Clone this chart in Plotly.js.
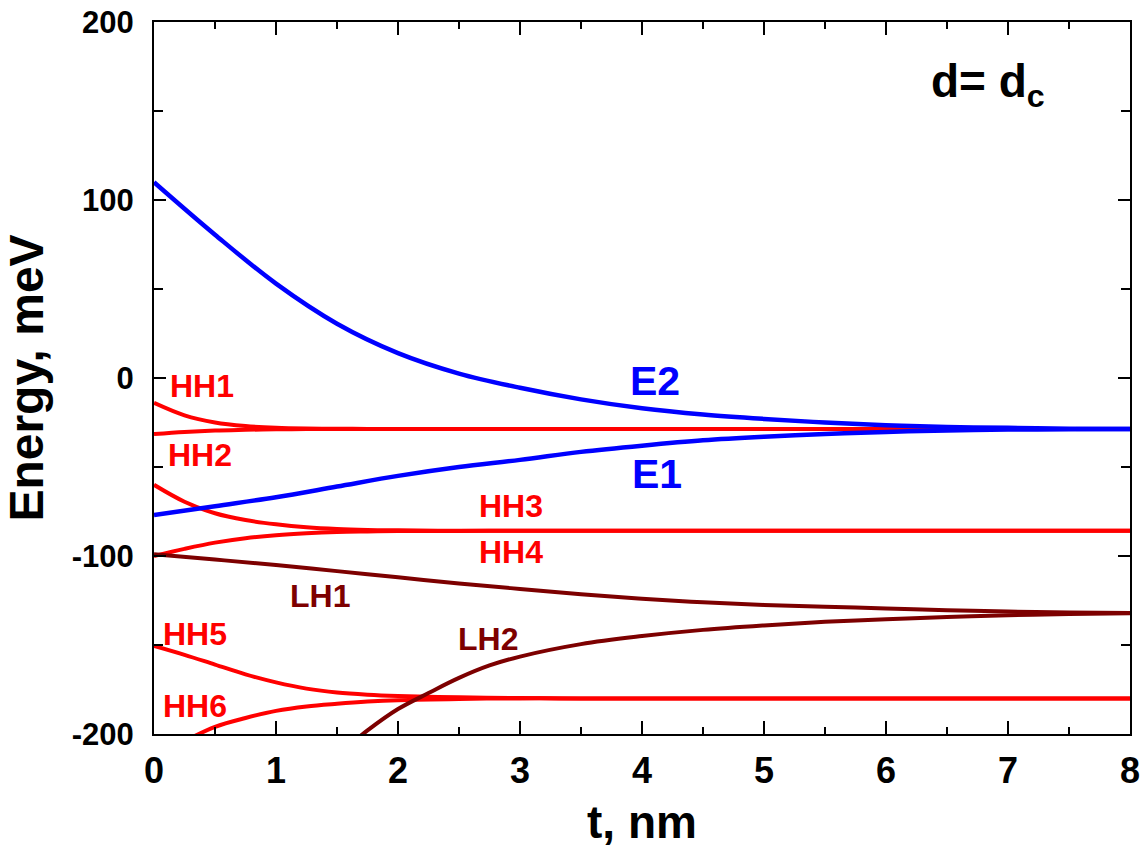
<!DOCTYPE html>
<html>
<head>
<meta charset="utf-8">
<script src="https://cdn.plot.ly/plotly-3.0.1.min.js"></script>
<style>html,body{margin:0;padding:0;background:#fff;}#chart{width:1140px;height:852px;}</style>
</head>
<body>
<div id="chart"></div>
<script>
// thickness t, nm (sample points) and energies, meV
const tFull = [0,0.25,0.5,0.75,1,1.25,1.5,1.75,2,2.5,3,3.5,4,4.5,5,5.5,6,6.5,7,7.5,8];
const tHalf = [0,0.5,1,1.5,2,2.5,3,3.5,4,4.5,5,5.5,6,6.5,7,7.5,8];
const tLH2  = [1.5,1.75,2,2.25,2.5,2.75,3,3.5,4,4.5,5,5.5,6,6.5,7,7.5,8];

const E2  = [110,80.5,53,30.5,14,2.5,-5.5,-12,-17,-20.5,-23,-25,-26.5,-27.5,-28,-28.5,-28.7];
const E1  = [-77,-72,-67,-61,-55,-50,-46,-41.5,-38,-35,-33,-31.5,-30.3,-29.5,-29,-28.8,-28.7];

const HH1 = [-14,-21,-25,-27,-28,-28.4,-28.5,-28.6,-28.6,-28.6,-28.6,-28.6,-28.6,-28.6,-28.6,-28.6,-28.6,-28.6,-28.6,-28.6,-28.6];
const HH2 = [-31.5,-30.3,-29.5,-29.1,-28.8,-28.7,-28.6,-28.6,-28.6,-28.6,-28.6,-28.6,-28.6,-28.6,-28.6,-28.6,-28.6,-28.6,-28.6,-28.6,-28.6];
const HH3 = [-60,-69.5,-76,-79.8,-82.2,-83.9,-84.9,-85.4,-85.6,-85.8,-85.8,-85.8,-85.8,-85.8,-85.8,-85.8,-85.8,-85.8,-85.8,-85.8,-85.8];
const HH4 = [-100,-96,-92.5,-90,-88.3,-87.2,-86.5,-86.2,-86,-85.9,-85.8,-85.8,-85.8,-85.8,-85.8,-85.8,-85.8,-85.8,-85.8,-85.8,-85.8];
const HH5 = [-150.5,-155.5,-161,-166.5,-171,-174.5,-176.7,-177.9,-178.6,-179.4,-179.8,-180,-180,-180,-180,-180,-180,-180,-180,-180,-180];
const HH6 = [-213,-204,-196,-191,-187,-184.5,-183,-181.8,-181,-180.3,-180,-180,-180,-180,-180,-180,-180,-180,-180,-180,-180];

const LH1 = [-99,-102,-105,-108.5,-112,-115.5,-118.5,-121.5,-124,-126,-127.5,-128.5,-129.5,-130.5,-131.2,-131.7,-132];
const LH2 = [-212,-198,-186,-177,-168.5,-161.5,-156.5,-149.5,-145,-141.5,-139,-137,-135.5,-134.3,-133.3,-132.6,-132.2];

const xTicks = [0,1,2,3,4,5,6,7,8];
const yTicks = [-200,-100,0,100,200];
const yTickText = ['-200','-100','0','100','200'];

const labels = [
  {text:'HH1', x:0.39, y:-4.5,  c:'red'},
  {text:'HH2', x:0.38, y:-43,   c:'red'},
  {text:'HH3', x:2.93, y:-72,   c:'red'},
  {text:'HH4', x:2.93, y:-97.5, c:'red'},
  {text:'HH5', x:0.34, y:-144,  c:'red'},
  {text:'HH6', x:0.34, y:-184,  c:'red'},
  {text:'LH1', x:1.36, y:-122.5,c:'dark'},
  {text:'LH2', x:2.74, y:-146.6,c:'dark'}
];
const eLabels = [
  {text:'E2', x:4.11, y:-1.7},
  {text:'E1', x:4.12, y:-54}
];

const RED = '#ff0000', DARK = '#7d0000', BLUE = '#0000ff';
const FONT = 'Liberation Sans, Arial, sans-serif';

function line(x, y, color, w) {
  return {x:x, y:y, mode:'lines', type:'scatter', line:{color:color, width:w, shape:'spline', smoothing:1}, hoverinfo:'skip', showlegend:false};
}

const data = [
  line(tFull, HH1, RED, 4),
  line(tFull, HH2, RED, 4),
  line(tFull, HH3, RED, 4),
  line(tFull, HH4, RED, 4),
  line(tFull, HH5, RED, 4),
  line(tFull, HH6, RED, 4),
  line(tHalf, LH1, DARK, 4),
  line(tLH2, LH2, DARK, 4),
  line(tHalf, E1, BLUE, 4.5),
  line(tHalf, E2, BLUE, 4.5)
];

const annotations = labels.map(l => ({
  x:l.x, y:l.y, xref:'x', yref:'y', text:l.text, showarrow:false,
  font:{family:FONT, size:32, weight:'bold', color: l.c === 'red' ? RED : DARK}
})).concat(eLabels.map(l => ({
  x:l.x, y:l.y, xref:'x', yref:'y', text:l.text, showarrow:false,
  font:{family:FONT, size:41, weight:'bold', color:BLUE}
}))).concat([{
  x:6.84, y:165, xref:'x', yref:'y', text:'d= d<sub>c</sub>', showarrow:false,
  font:{family:FONT, size:46, weight:'bold', color:'#000'}
}]);

const layout = {
  width:1140, height:852,
  margin:{l:154, r:10, t:22, b:118},
  paper_bgcolor:'#fff', plot_bgcolor:'#fff',
  showlegend:false,
  xaxis:{
    range:[0,8.0001], tickmode:'array', tickvals:xTicks, ticktext:xTicks.map(String),
    showgrid:false, zeroline:false,
    showline:true, linecolor:'#000', linewidth:2, mirror:'ticks',
    ticks:'inside', ticklen:13, tickwidth:2, tickcolor:'#000',
    minor:{dtick:0.5, tick0:0, ticks:'inside', ticklen:7, tickwidth:2, tickcolor:'#000', showgrid:false},
    tickfont:{family:FONT, size:36, weight:'bold', color:'#000'},
    ticklabelstandoff:4,
    ticklabeloverflow:'allow',
    title:{text:'t, nm', font:{family:FONT, size:46, weight:'bold', color:'#000'}, standoff:16},
    automargin:false
  },
  yaxis:{
    range:[-200,200], tickmode:'array', tickvals:yTicks, ticktext:yTickText,
    showgrid:false, zeroline:false,
    showline:true, linecolor:'#000', linewidth:2, mirror:'ticks',
    ticks:'inside', ticklen:12, tickwidth:2, tickcolor:'#000',
    minor:{dtick:50, tick0:0, ticks:'inside', ticklen:9, tickwidth:2, tickcolor:'#000', showgrid:false},
    tickfont:{family:FONT, size:31, weight:'bold', color:'#000'},
    ticklabelstandoff:12,
    title:{text:'Energy, meV', font:{family:FONT, size:48, weight:'bold', color:'#000'}, standoff:14},
    automargin:false
  },
  annotations:annotations
};

Plotly.newPlot('chart', data, layout, {displayModeBar:false, staticPlot:true});
</script>
</body>
</html>
